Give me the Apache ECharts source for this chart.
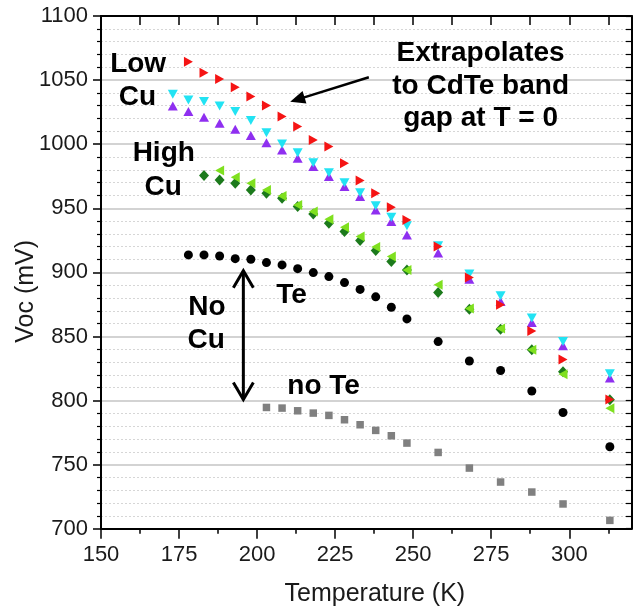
<!DOCTYPE html>
<html>
<head>
<meta charset="utf-8">
<title>Voc vs Temperature</title>
<script src="https://cdn.jsdelivr.net/npm/echarts@6/dist/echarts.min.js"></script>
<style>
  html, body { margin: 0; padding: 0; background: #fff; }
  #chart { width: 634px; height: 611px; }
</style>
</head>
<body>
<div id="chart"></div>
<script>
// Temperatures (K) of each measurement run
const tempsA = [173, 178, 183, 188, 193, 198, 203, 208, 213, 218, 223, 228, 233, 238, 243, 248, 258, 268, 278, 288, 298, 313];
const tempsB = [178, 183, 188, 193, 198, 203, 208, 213, 218, 223, 228, 233, 238, 243, 248, 258, 268, 278, 288, 298, 313];
const tempsC = [183, 188, 193, 198, 203, 208, 213, 218, 223, 228, 233, 238, 243, 248, 258, 268, 278, 288, 298, 313];
const tempsD = [188, 193, 198, 203, 208, 213, 218, 223, 228, 233, 238, 243, 248, 258, 268, 278, 288, 298, 313];
const tempsE = [203, 208, 213, 218, 223, 228, 233, 238, 243, 248, 258, 268, 278, 288, 298, 313];

// Open-circuit voltage (mV)
const vocLowCuRed    = [1064.4, 1055.8, 1050.9, 1044.4, 1037.1, 1030.1, 1021.5, 1013.7, 1003.3, 998.1, 985.1, 971.6, 961.8, 950.8, 940.9, 920.1, 896.0, 874.7, 854.2, 832.0, 800.8];
const vocLowCuCyan   = [1038.9, 1034.5, 1033.2, 1029.8, 1025.4, 1018.4, 1009.0, 1000.2, 993.4, 985.6, 977.8, 970.0, 962.2, 951.9, 943.0, 936.3, 920.7, 898.8, 881.7, 864.3, 846.0, 820.9];
const vocLowCuViolet = [1029.8, 1025.4, 1021.0, 1016.3, 1011.6, 1006.7, 1001.2, 995.5, 989.0, 982.5, 974.7, 966.9, 959.1, 948.7, 939.6, 929.2, 915.0, 894.7, 877.2, 860.9, 842.7, 817.5];
const vocHighCuDark  = [975.5, 972.1, 969.6, 964.3, 961.8, 957.9, 951.3, 945.6, 938.4, 931.8, 924.8, 917.0, 908.5, 901.9, 884.3, 871.3, 855.7, 839.6, 822.5, 800.6];
const vocHighCuLime  = [979.4, 974.2, 969.6, 964.3, 959.6, 952.6, 947.4, 941.5, 935.2, 928.0, 919.7, 912.3, 901.9, 890.3, 871.8, 856.2, 839.6, 820.5, 794.0];
const vocNoCuTe      = [913.6, 913.6, 912.8, 910.7, 910.2, 907.6, 905.8, 902.9, 899.8, 896.7, 892.0, 886.7, 880.9, 872.8, 863.7, 846.0, 830.8, 823.4, 807.4, 790.7, 763.9];
const vocNoCuNoTe    = [794.6, 794.1, 792.0, 790.2, 788.4, 785.0, 781.1, 776.7, 772.5, 766.8, 759.5, 747.3, 736.4, 728.6, 719.3, 706.5];

// Axis ticks
const xMajorTicks = [150, 175, 200, 225, 250, 275, 300];
const xMinorTicks = [162.5, 187.5, 212.5, 237.5, 262.5, 287.5, 312.5];
const xTopTicks   = [150, 162.5, 175, 187.5, 200, 212.5, 225, 237.5, 250, 262.5, 275, 287.5, 300, 312.5];

const pair = (xs, ys) => xs.map((x, i) => [x, ys[i]]);

const chart = echarts.init(document.getElementById('chart'), null, { renderer: 'canvas' });

const tickFont = "'Liberation Sans Narrow', 'Arial Narrow', 'Liberation Sans', Arial, sans-serif";
const titleFont = "'Liberation Sans', Arial, sans-serif";
const X_MIN = 150, X_MAX = 320, Y_MIN = 700, Y_MAX = 1100;

function scatter(name, xs, ys, symbol, size, color, rotate, z) {
  return {
    name, type: 'scatter', xAxisIndex: 0, yAxisIndex: 0,
    data: pair(xs, ys), symbol, symbolSize: size, symbolRotate: rotate || 0,
    itemStyle: { color, opacity: 1 }, z: z, silent: true, animation: false
  };
}

chart.setOption({
  animation: false,
  backgroundColor: '#ffffff',
  grid: { left: 101, right: 2.3, top: 16, bottom: 82.3, containLabel: false, outerBoundsMode: 'none' },
  xAxis: [
    {
      type: 'value', position: 'bottom', min: X_MIN, max: X_MAX, interval: 25,
      name: 'Temperature (K)', nameLocation: 'middle', nameGap: 53, nameMoveOverlap: false,
      nameTextStyle: { fontFamily: titleFont, fontSize: 25, color: '#1a1a1a', padding: [0, 0, 0, 17] },
      axisLine: { show: true, onZero: false, lineStyle: { color: '#000', width: 2 } },
      axisTick: { show: true, inside: false, length: 10, customValues: xMajorTicks, lineStyle: { color: '#000', width: 1.5 } },
      axisLabel: { show: true, customValues: xMajorTicks, margin: 15, fontFamily: tickFont, fontSize: 22, color: '#1a1a1a', formatter: (v) => String(v) },
      splitLine: { show: false }
    },
    {
      type: 'value', position: 'bottom', min: X_MIN, max: X_MAX, interval: 25,
      axisLine: { show: false, onZero: false },
      axisTick: { show: true, inside: false, length: 5, customValues: xMinorTicks, lineStyle: { color: '#000', width: 1.5 } },
      axisLabel: { show: false }, splitLine: { show: false }
    },
    {
      type: 'value', position: 'top', min: X_MIN, max: X_MAX, interval: 12.5,
      axisLine: { show: true, onZero: false, lineStyle: { color: '#000', width: 2 } },
      axisTick: { show: true, inside: true, length: 9, customValues: xTopTicks, lineStyle: { color: '#000', width: 1.5 } },
      axisLabel: { show: false }, splitLine: { show: false }
    }
  ],
  yAxis: [
    {
      type: 'value', position: 'left', min: Y_MIN, max: Y_MAX, interval: 50,
      name: 'Voc (mV)', nameLocation: 'middle', nameGap: 62, nameMoveOverlap: false,
      nameTextStyle: { fontFamily: titleFont, fontSize: 25, color: '#1a1a1a', padding: [0, 38, 0, 0] },
      axisLine: { show: true, onZero: false, lineStyle: { color: '#000', width: 2 } },
      axisTick: { show: true, inside: false, length: 8, lineStyle: { color: '#000', width: 1.5 } },
      minorTick: { show: true, splitNumber: 5, length: 4, lineStyle: { color: '#000', width: 1.2 } },
      axisLabel: { show: true, margin: 13, fontFamily: tickFont, fontSize: 22, color: '#1a1a1a', formatter: (v) => String(v) },
      splitLine: { show: true, lineStyle: { color: '#c4c4c4', width: 1.5 } },
      minorSplitLine: { show: true, lineStyle: { color: '#d6d6d6', width: 1, type: [2, 2] } }
    },
    {
      type: 'value', position: 'right', min: Y_MIN, max: Y_MAX, interval: 10,
      axisLine: { show: true, onZero: false, lineStyle: { color: '#000', width: 2 } },
      axisTick: { show: true, inside: true, length: 6, lineStyle: { color: '#000', width: 1.2 } },
      axisLabel: { show: false }, splitLine: { show: false }
    }
  ],
  series: [
    scatter('No Cu, no Te', tempsE, vocNoCuNoTe, 'rect', 7.5, '#808080', 0, 2),
    scatter('No Cu, Te', tempsB, vocNoCuTe, 'circle', 9, '#000000', 0, 3),
    scatter('High Cu (a)', tempsC, vocHighCuDark, 'diamond', [10, 11], '#1c7a1c', 0, 4),
    scatter('High Cu (b)', tempsD, vocHighCuLime, 'triangle', [10, 9], '#7fe01f', 90, 5),
    scatter('Low Cu (b)', tempsA, vocLowCuViolet, 'triangle', [10, 9], '#8f2ff0', 0, 6),
    scatter('Low Cu (c)', tempsA, vocLowCuCyan, 'triangle', [10, 9], '#22e3f3', 180, 7),
    scatter('Low Cu (a)', tempsB, vocLowCuRed, 'triangle', [10, 9], '#f51414', -90, 8)
  ]
});

// Annotations, anchored in data coordinates (temperature, Voc)
const labels = [
  { text: 'Low',          at: [161.9, 1062.6] },
  { text: 'Cu',           at: [161.7, 1036.4] },
  { text: 'High',         at: [170.1, 993.1] },
  { text: 'Cu',           at: [169.9, 966.2] },
  { text: 'No',           at: [183.9, 873.0] },
  { text: 'Cu',           at: [183.7, 847.2] },
  { text: 'Te',           at: [211.0, 882.3] },
  { text: 'no Te',        at: [221.3, 810.9] },
  { text: 'Extrapolates', at: [271.6, 1070.9] },
  { text: 'to CdTe band', at: [271.6, 1044.8] },
  { text: 'gap at T = 0', at: [271.6, 1020.2] }
];
const splitArrow = { x: 195.6, top: 902, bottom: 800 };
const pointerArrow = { from: [235.8, 1052.2], to: [210.6, 1033.1] };

const toPx = (p) => chart.convertToPixel({ xAxisIndex: 0, yAxisIndex: 0 }, p);
const graphics = [];

labels.forEach((l) => {
  const [x, y] = toPx(l.at);
  graphics.push({
    type: 'text', x, y, z: 20, silent: true,
    style: {
      text: l.text, font: "bold 28px 'Liberation Sans', Arial, sans-serif", fill: '#000',
      align: 'center', verticalAlign: 'middle', textAlign: 'center', textVerticalAlign: 'middle'
    }
  });
});

// Double-headed vertical arrow with open heads
(function () {
  const [x1, yTop] = toPx([splitArrow.x, splitArrow.top]);
  const [, yBot] = toPx([splitArrow.x, splitArrow.bottom]);
  const hl = 18, hw = 10;
  const ls = { stroke: '#000', lineWidth: 3, fill: null, lineCap: 'butt', lineJoin: 'miter' };
  graphics.push({ type: 'line', z: 20, silent: true, shape: { x1: x1, y1: yTop + 1, x2: x1, y2: yBot - 1 }, style: ls });
  graphics.push({ type: 'polyline', z: 20, silent: true, shape: { points: [[x1 - hw, yTop + hl], [x1, yTop + 1], [x1 + hw, yTop + hl]] }, style: ls });
  graphics.push({ type: 'polyline', z: 20, silent: true, shape: { points: [[x1 - hw, yBot - hl], [x1, yBot - 1], [x1 + hw, yBot - hl]] }, style: ls });
})();

// Pointer arrow with filled head
(function () {
  const [tx, ty] = toPx(pointerArrow.from);
  const [hx, hy] = toPx(pointerArrow.to);
  const dx = hx - tx, dy = hy - ty, len = Math.hypot(dx, dy);
  const ux = dx / len, uy = dy / len, px = -uy, py = ux;
  const hl = 15, hw = 6.5;
  const bx = hx - ux * hl, by = hy - uy * hl;
  graphics.push({ type: 'line', z: 20, silent: true, shape: { x1: tx, y1: ty, x2: bx + ux * 2, y2: by + uy * 2 }, style: { stroke: '#000', lineWidth: 2.5 } });
  graphics.push({ type: 'polygon', z: 20, silent: true, shape: { points: [[hx, hy], [bx + px * hw, by + py * hw], [bx - px * hw, by - py * hw]] }, style: { fill: '#000', stroke: null } });
})();

chart.setOption({ graphic: graphics });
</script>
</body>
</html>
